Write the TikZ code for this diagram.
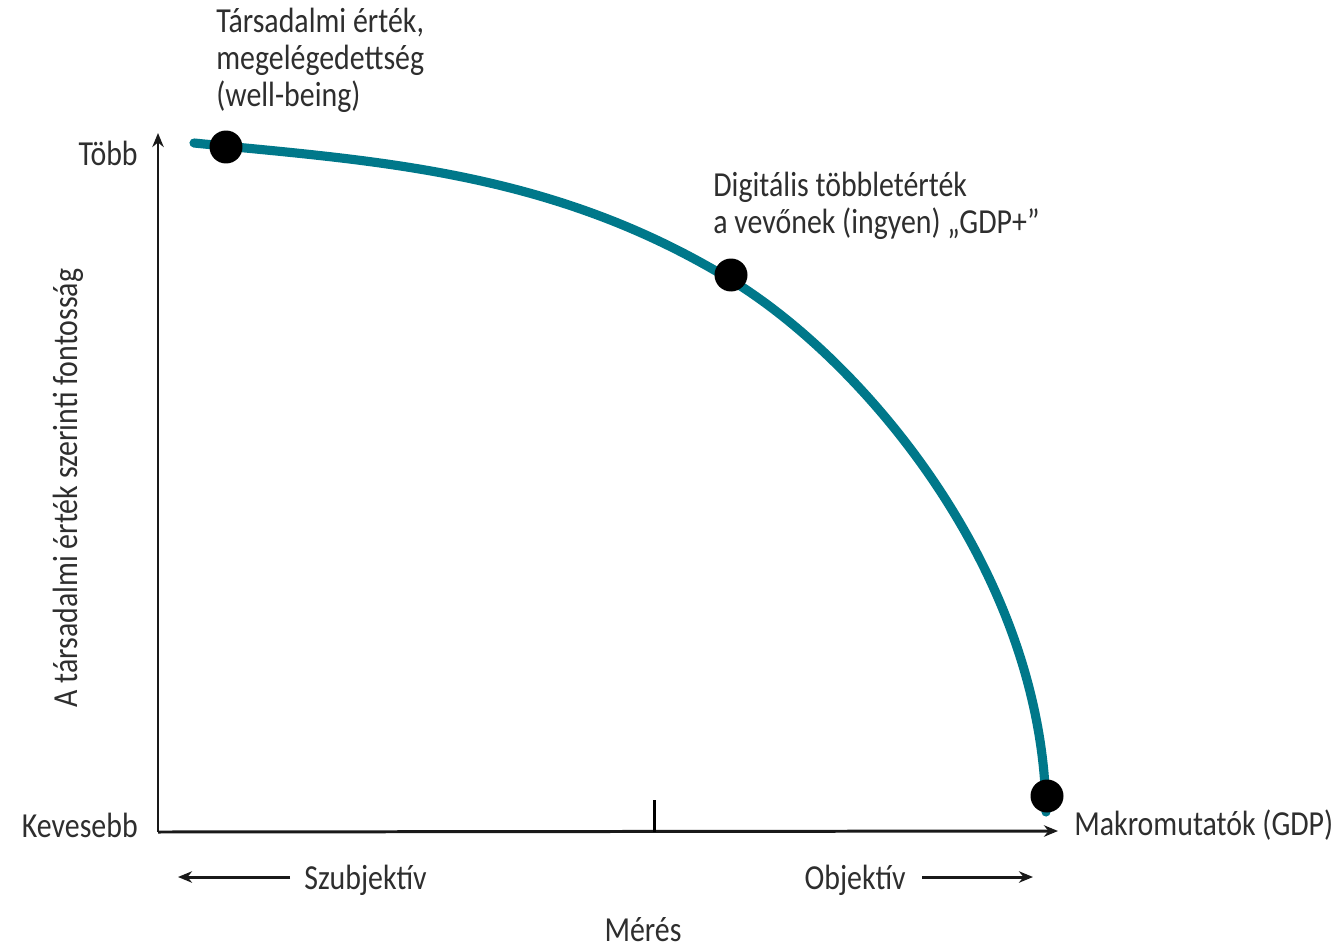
\documentclass[tikz,border=0pt]{standalone}
\usepackage{fontspec}
\setmainfont[FakeStretch=0.85]{Carlito}
\usetikzlibrary{arrows.meta}
\definecolor{curveteal}{HTML}{00788A}
\definecolor{labelgray}{HTML}{2E2E2E}
\begin{document}
\begin{tikzpicture}[x=0.02cm, y=-0.02cm]
        \tikzstyle{every node}=[text=labelgray, font=\fontsize{20}{21}\selectfont, inner sep=0pt];
        \tikzstyle{axis}=[draw=black!90, line width=1.7pt, -{Stealth[length=8pt, width=6.5pt]}];
        \tikzstyle{dot}=[circle, fill=black, minimum size=0.66cm];
        \useasboundingbox (0,0) rectangle (1339,950);
        % axes
        \coordinate (origin) at (158,832);
        \coordinate (ytop) at (158,133);
        \coordinate (xend) at (1058,831);
        \coordinate (tick) at (654,800);
        \draw[axis] (origin) -- (ytop);
        \draw[axis] (origin) -- (xend);
        \draw[line width=1.7pt] (tick) -- (tick |- origin);
        \node (tobb) [anchor=east] at (138,153) {Több};
        \node (kevesebb) [anchor=east] at (138,825) {Kevesebb};
        \node (makro) [anchor=west] at (1074,825) {Makromutatók (GDP)};
        \node (ylabel) [rotate=90] at (68,488) {A társadalmi érték szerinti fontosság};
        % curve
        \coordinate (cstart) at (194,143);
        \coordinate (cmid) at (731,280);
        \coordinate (cend) at (1046,812);
        \draw[curveteal, line width=5.2pt, line cap=round] (cstart) .. controls (374,161) and (551,170) .. (cmid)
            .. controls (861,359) and (1043,570) .. (cend);
        \node (well) [dot] at (226,147) {};
        \node (digit) [dot] at (731,275) {};
        \node (gdp) [dot] at (1047,796) {};
        \node (welltext) [anchor=west, align=left] at (216,60) {Társadalmi érték,\\megelégedettség\\(well-being)};
        \node (digittext) [anchor=west, align=left] at (713,206) {Digitális többletérték\\a vevőnek (ingyen) „GDP+”};
        % measurement
        \node (szub) [anchor=west] at (304,880) {Szubjektív};
        \node (obj) [anchor=east] at (906,880) {Objektív};
        \node (meres) at (643,930) {Mérés};
        \coordinate (szubend) at (178,877);
        \coordinate (objend) at (1033,877);
        \draw[axis] (szub.west)+(-14,-3) -- (szubend);
        \draw[axis] (obj.east)+(16,-3) -- (objend);
    \end{tikzpicture}
\end{document}
